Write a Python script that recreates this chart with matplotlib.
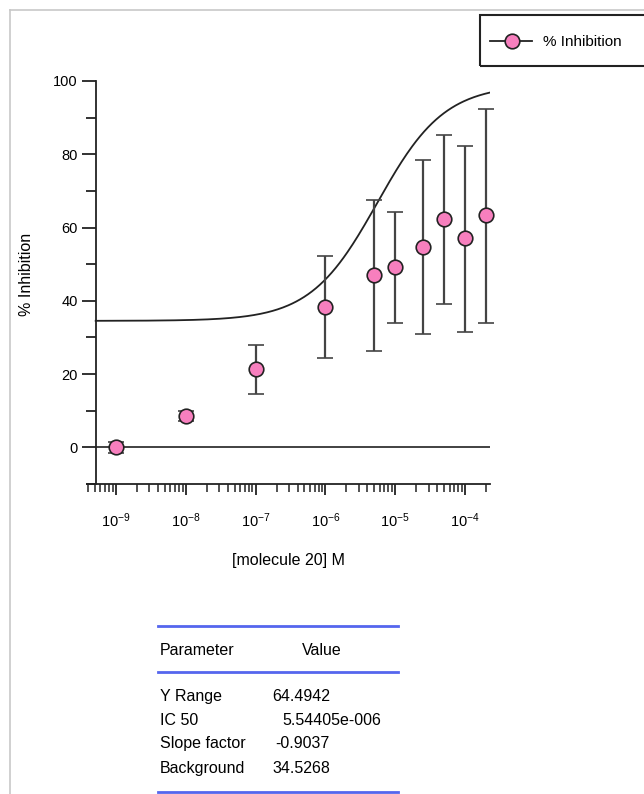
import numpy as np
import matplotlib
matplotlib.use("Agg")
from matplotlib import pyplot as plt
from matplotlib.patches import Rectangle
from matplotlib.lines import Line2D

plt.rcParams['font.family'] = ['Liberation Sans', 'DejaVu Sans']
plt.rcParams['mathtext.default'] = 'regular'

# measured points (concentration in M, % inhibition, error)
conc = [1e-9, 1e-8, 1e-7, 1e-6, 5e-6, 1e-5, 2.5e-5, 5e-5, 1e-4, 2e-4]
inhibition = [0.0, 8.5, 21.3, 38.3, 47.0, 49.2, 54.6, 62.3, 57.1, 63.4]
err_hi = [1.5, 1.3, 6.6, 13.9, 20.5, 15.0, 23.8, 22.9, 25.1, 29.0]
err_lo = [1.5, 1.3, 6.8, 14.0, 20.8, 15.3, 23.7, 23.2, 25.7, 29.5]

# fit parameters shown in the table
y_range = 64.4942
ic50 = 5.54405e-6
slope = -0.9037
background = 34.5268

param_names = ["Y Range", "IC 50", "Slope factor", "Background"]
param_values = ["64.4942", "5.54405e-006", "-0.9037", "34.5268"]
value_x = [272, 282, 275, 272]

W, H = 644, 794
fig = plt.figure(figsize=(W / 100, H / 100), dpi=100)

def fx(px):
    return px / W

def fy(py):
    return 1 - py / H

# light grey frame round the page
fig.add_artist(Line2D([fx(10), fx(10)], [fy(10), 0], color='#c8c8c8', lw=1.2))
fig.add_artist(Line2D([fx(10), 1], [fy(10), fy(10)], color='#c8c8c8', lw=1.2))

ax = fig.add_axes([fx(87), fy(484), fx(490) - fx(87), fy(81) - fy(484)])
xmin = 10 ** (-9 - 29 / 70.)
xmax = 10 ** (-4 + 25 / 70.)
xleft = 10 ** (-9 - 20.3 / 70.)
ax.set_xscale('log')
ax.set_xlim(xmin, xmax)
ax.set_ylim(-10, 100)

for s in ['top', 'right']:
    ax.spines[s].set_visible(False)
ax.spines['left'].set_position(('data', xleft))
for s in ['left', 'bottom']:
    ax.spines[s].set_linewidth(1.3)
    ax.spines[s].set_color('#222222')

# fitted curve
xc = np.logspace(np.log10(xleft), np.log10(xmax), 300)
yc = background + y_range / (1 + (xc / ic50) ** slope)
ax.plot(xc, yc, color='#222222', lw=1.3, zorder=2)

# zero line
ax.plot([xleft, xmax], [0, 0], color='#333333', lw=1.3, zorder=1)

ax.errorbar(conc, inhibition, yerr=[err_lo, err_hi], fmt='o', color='#444444',
            ecolor='#444444', elinewidth=1.6, capsize=6, capthick=1.6,
            markersize=10.5, markerfacecolor='#f77fbe', markeredgecolor='#222222',
            markeredgewidth=1.2, zorder=3, clip_on=False)

ax.set_yticks([0, 20, 40, 60, 80, 100])
ax.set_yticks([-10, 10, 30, 50, 70, 90], minor=True)
ax.set_xticks([1e-9, 1e-8, 1e-7, 1e-6, 1e-5, 1e-4])
ax.set_xticklabels([r'10$^{-9}$', r'10$^{-8}$', r'10$^{-7}$', r'10$^{-6}$',
                    r'10$^{-5}$', r'10$^{-4}$'])
ax.tick_params(axis='both', which='major', labelsize=10.5, width=1.3,
               color='#222222', direction='out')
ax.tick_params(axis='y', which='major', length=10, pad=3)
ax.tick_params(axis='y', which='minor', length=7, width=1.3, color='#222222')
ax.tick_params(axis='x', which='major', length=8, pad=12)
ax.tick_params(axis='x', which='minor', length=6, width=1.1, color='#222222')

ax.set_ylabel('% Inhibition', fontsize=11.5)
ax.set_xlabel('[molecule 20] M', fontsize=11.5, labelpad=16)
ax.yaxis.set_label_coords(fx(34 - 87) / (fx(490) - fx(87)), 0.52)

# legend box, running off the right edge
fig.add_artist(Rectangle((fx(480), fy(66)), 1, fy(15) - fy(66), fill=False,
                         edgecolor='#222222', lw=1.5, transform=fig.transFigure))
fig.add_artist(Line2D([fx(490), fx(532)], [fy(41), fy(41)], color='#222222', lw=1.3))
fig.add_artist(Line2D([fx(512)], [fy(41)], marker='o', markersize=10.5,
                      markerfacecolor='#f77fbe', markeredgecolor='#222222',
                      markeredgewidth=1.2))
fig.text(fx(543), fy(41), '% Inhibition', fontsize=11, va='center_baseline', ha='left')

# parameter table
blue = '#5566ee'
for py in [626, 672, 792]:
    fig.add_artist(Line2D([fx(158), fx(398)], [fy(py), fy(py)], color=blue, lw=2))
fig.text(fx(160), fy(649), 'Parameter', fontsize=11.5, va='center_baseline')
fig.text(fx(322), fy(649), 'Value', fontsize=11.5, va='center_baseline', ha='center')
row_y = [695, 719, 742, 767]
for name, val, vx, py in zip(param_names, param_values, value_x, row_y):
    fig.text(fx(160), fy(py), name, fontsize=11.5, va='center_baseline')
    fig.text(fx(vx), fy(py), val, fontsize=11.5, va='center_baseline')

fig.savefig('out.png', dpi=100)
